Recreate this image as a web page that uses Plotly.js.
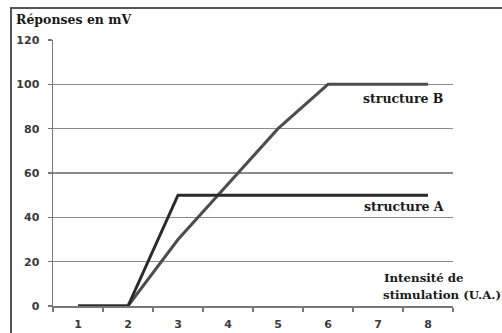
<!DOCTYPE html>
<html><head><meta charset="utf-8">
<script src="https://cdn.plot.ly/plotly-3.0.1.min.js"></script>
<style>html,body{margin:0;padding:0;background:#fff;}#chart{width:502px;height:333px;}</style>
</head><body><div id="chart"></div>
<script>
var intensite = ['1','2','3','4','5','6','7','8'];
var structureA = [0, 0, 50, 50, 50, 50, 50, 50];
var structureB = [0, 0, 30, 55, 80, 100, 100, 100];
var yTicks = [0, 20, 40, 60, 80, 100, 120];

var L = 53, T = 40, W = 400, H = 266;
function px(x){return (x - L)/W;}
function py(y){return (T + H - y)/H;}

var traces = [
  {x: intensite, y: structureB, type: 'scatter', mode: 'lines', name: 'structure B',
   line: {color: '#4d4d4d', width: 3}, hoverinfo: 'skip'},
  {x: intensite, y: structureA, type: 'scatter', mode: 'lines', name: 'structure A',
   line: {color: '#2a2a2a', width: 3}, hoverinfo: 'skip'}
];

var serif = {family: 'DejaVu Serif, Liberation Serif, serif', size: 12.5, color: '#1a1a1a', weight: 'bold'};
var serifSm = {family: 'DejaVu Serif, Liberation Serif, serif', size: 11.8, color: '#1a1a1a', weight: 'bold'};
var tickFont = {family: 'DejaVu Sans, Liberation Sans, sans-serif', size: 11, color: '#3a3a3a', weight: 'bold'};

var layout = {
  width: 502, height: 333,
  margin: {l: L, r: 502 - L - W, t: T, b: 333 - T - H, pad: 0},
  paper_bgcolor: '#fff', plot_bgcolor: '#fff',
  showlegend: false,
  xaxis: {
    type: 'category', tickson: 'boundaries', ticks: 'outside', ticklen: 4, tickwidth: 1.2,
    tickcolor: '#777', showgrid: false, showline: true, linecolor: '#777', linewidth: 1.5,
    zeroline: false, tickfont: tickFont, ticklabelstandoff: 7,
    range: [-0.5, 7.5], fixedrange: true
  },
  yaxis: {
    range: [0, 120], tickvals: yTicks, ticks: 'outside', ticklen: 4, tickwidth: 1.2, tickcolor: '#777',
    showgrid: true, gridcolor: '#8a8a8a', gridwidth: 1.2, showline: true, linecolor: '#777', linewidth: 1.5,
    zeroline: false, tickfont: tickFont,
    ticklabelstandoff: 6, fixedrange: true
  },
  shapes: [
    {type: 'rect', xref: 'paper', yref: 'paper', x0: px(11), x1: px(520), y0: py(345), y1: py(8),
     line: {color: '#555', width: 2}, fillcolor: 'rgba(0,0,0,0)', layer: 'above'}
  ],
  annotations: [
    {text: 'Réponses en mV', xref: 'paper', yref: 'paper', x: px(14), y: py(20), xanchor: 'left', yanchor: 'middle', showarrow: false, font: serif},
    {text: 'structure B', xref: 'paper', yref: 'paper', x: px(361), y: py(98), xanchor: 'left', yanchor: 'middle', showarrow: false, font: serif},
    {text: 'structure A', xref: 'paper', yref: 'paper', x: px(362), y: py(206), xanchor: 'left', yanchor: 'middle', showarrow: false, font: serif},
    {text: 'Intensité de', xref: 'paper', yref: 'paper', x: px(382), y: py(278), xanchor: 'left', yanchor: 'middle', showarrow: false, font: serifSm},
    {text: 'stimulation (U.A.)', xref: 'paper', yref: 'paper', x: px(381), y: py(295), xanchor: 'left', yanchor: 'middle', showarrow: false, font: serifSm}
  ]
};

Plotly.newPlot('chart', traces, layout, {displayModeBar: false, staticPlot: true});
</script>
</body></html>
